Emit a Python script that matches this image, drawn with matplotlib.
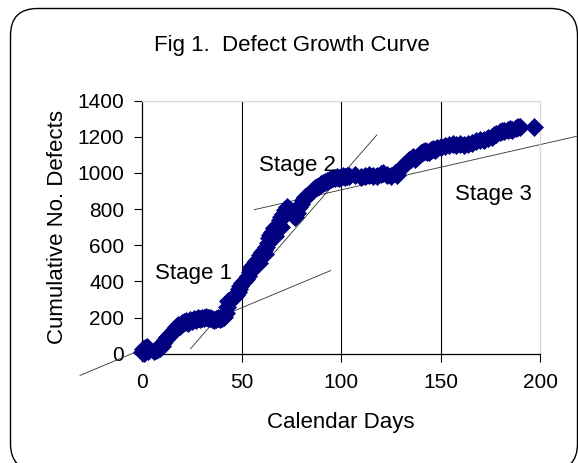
import matplotlib
matplotlib.use("Agg")
import matplotlib.pyplot as plt
from matplotlib.patches import FancyBboxPatch

plt.rcParams['font.family'] = ['Liberation Sans', 'DejaVu Sans']

# ---- data ----
days = [0, 0.5, 1, 1.5, 2, 2.5, 3,
        6, 7, 8, 9, 10, 10.5, 11, 12, 12.5, 13, 14, 15, 15.5, 16, 17, 18, 19, 20,
        21, 22, 23, 24, 25, 26, 27, 28, 29, 30, 31, 32, 33, 34, 35, 36, 37, 38, 39,
        40, 41, 42, 42.5, 43, 44, 45, 46, 47, 48, 48.5, 49, 50, 51, 52, 53, 54,
        54.5, 55, 56, 57, 58, 58.5, 59, 60, 61, 61.5, 62, 63, 63.5, 64, 65, 66, 66.5, 67, 68, 69,
        69.5, 70, 71, 72, 73, 74, 76, 77, 78, 79, 80, 81, 82, 83, 84, 85, 86, 87, 88,
        89, 90, 91, 92, 93, 94, 95, 96, 97, 98, 99, 100, 101, 102, 103, 104, 107,
        110, 112, 114, 116, 118, 120, 121, 123, 125,
        127, 128, 129, 130, 131, 132, 133, 134, 135, 136, 137, 138, 139, 140, 141, 142,
        143, 144, 145, 146, 147, 148, 150, 152, 154, 156, 158, 160, 162, 164, 166, 168, 170,
        172, 174, 176, 177, 178, 180, 181, 182, 184, 185, 186, 188, 189, 190, 197]
defects = [10, 25, 5, 30, 20, 35, 15,
           15, 20, 25, 30, 40, 60, 70, 80, 95, 90, 110, 115, 125, 130, 145, 160, 155, 170,
           175, 180, 170, 185, 180, 190, 185, 195, 190, 200, 195, 205, 200, 195, 190, 185, 190, 195, 190,
           200, 205, 225, 260, 290, 295, 305, 315, 325, 340, 360, 375, 390, 400, 415, 430, 450,
           475, 485, 495, 515, 525, 500, 545, 565, 575, 550, 590, 610, 640, 655, 675, 695, 650, 705, 720, 740,
           700, 755, 775, 795, 810, 800, 770, 755, 780, 810, 830, 850, 865, 875, 885, 895, 905, 915, 925,
           930, 940, 945, 950, 955, 960, 965, 970, 975, 978, 975, 978, 985, 978, 982, 986, 990,
           980, 985, 990, 982, 985, 992, 998, 990, 985,
           1000, 990, 1015, 1030, 1040, 1050, 1060, 1070, 1080, 1090, 1080, 1090, 1100, 1110, 1115, 1120,
           1115, 1118, 1125, 1130, 1128, 1140, 1145, 1150, 1155, 1160, 1155, 1160, 1155, 1160, 1165, 1175, 1180,
           1185, 1195, 1200, 1210, 1215, 1225, 1230, 1235, 1240, 1245, 1240, 1250, 1255, 1255, 1255]

# trend lines (endpoints in data units)
trend1_x = [-31.3, 94.7]
trend1_y = [-120, 460]
trend2_x = [24.3, 117.9]
trend2_y = [28, 1210]
trend3_x = [56.3, 222]
trend3_y = [797, 1212]

xticks = [0, 50, 100, 150, 200]
yticks = [0, 200, 400, 600, 800, 1000, 1200, 1400]
gridx = [50, 100, 150]

title = "Fig 1.  Defect Growth Curve"
xlabel = "Calendar Days"
ylabel = "Cumulative No. Defects"
stage_labels = ["Stage 1", "Stage 2", "Stage 3"]
stage_x = [25.7, 78.1, 176.4]
stage_y = [411, 1011, 849]

W, H = 578, 463
fig = plt.figure(figsize=(W / 100, H / 100), dpi=100)

# background frame (rounded rectangle)
bg = fig.add_axes([0, 0, 1, 1], zorder=0)
bg.set_xlim(0, W)
bg.set_ylim(H, 0)
bg.axis('off')
frame = FancyBboxPatch((10.5, 8.5), 567, 462, boxstyle="round,pad=0,rounding_size=27",
                       facecolor='white', edgecolor='black', linewidth=1.0, clip_on=False)
bg.add_patch(frame)

ax = fig.add_axes([142.3 / W, 1 - 353.7 / H, 397.7 / W, 253.0 / H], zorder=1)
ax.patch.set_alpha(0)
ax.set_xlim(0, 200)
ax.set_ylim(0, 1400)

for gx in gridx:
    ax.axvline(gx, color='black', linewidth=0.8, zorder=1)

ax.plot(trend1_x, trend1_y, color='#303030', linewidth=0.6, clip_on=False, zorder=2)
ax.plot(trend2_x, trend2_y, color='#303030', linewidth=0.6, clip_on=False, zorder=2)
ax.plot(trend3_x, trend3_y, color='#303030', linewidth=0.6, clip_on=False, zorder=2)

ax.plot(days, defects, linestyle='none', marker='D', markersize=9,
        color='#000080', markeredgecolor='#000080', markeredgewidth=0.5,
        clip_on=False, zorder=3)

ax.set_xticks(xticks)
ax.set_yticks(yticks)
ax.tick_params(axis='both', direction='out', length=6, width=0.8, labelsize=15, colors='black')
ax.tick_params(axis='x', pad=8)
ax.tick_params(axis='y', pad=7)

for s in ['left', 'bottom']:
    ax.spines[s].set_color('black')
    ax.spines[s].set_linewidth(0.9)
for s in ['top', 'right']:
    ax.spines[s].set_color('#d8d8d8')
    ax.spines[s].set_linewidth(0.9)

for lab, sx, sy in zip(stage_labels, stage_x, stage_y):
    ax.text(sx, sy, lab, ha='center', va='baseline', fontsize=16, zorder=4)

fig.text(292 / W, 1 - 50.7 / H, title, ha='center', va='baseline', fontsize=16)
fig.text(341 / W, 1 - 428.3 / H, xlabel, ha='center', va='baseline', fontsize=16)
fig.text(63.4 / W, 1 - 227.5 / H, ylabel, ha='center', va='baseline', fontsize=16,
         rotation=90, rotation_mode='anchor')

fig.savefig('out.png', dpi=100)
